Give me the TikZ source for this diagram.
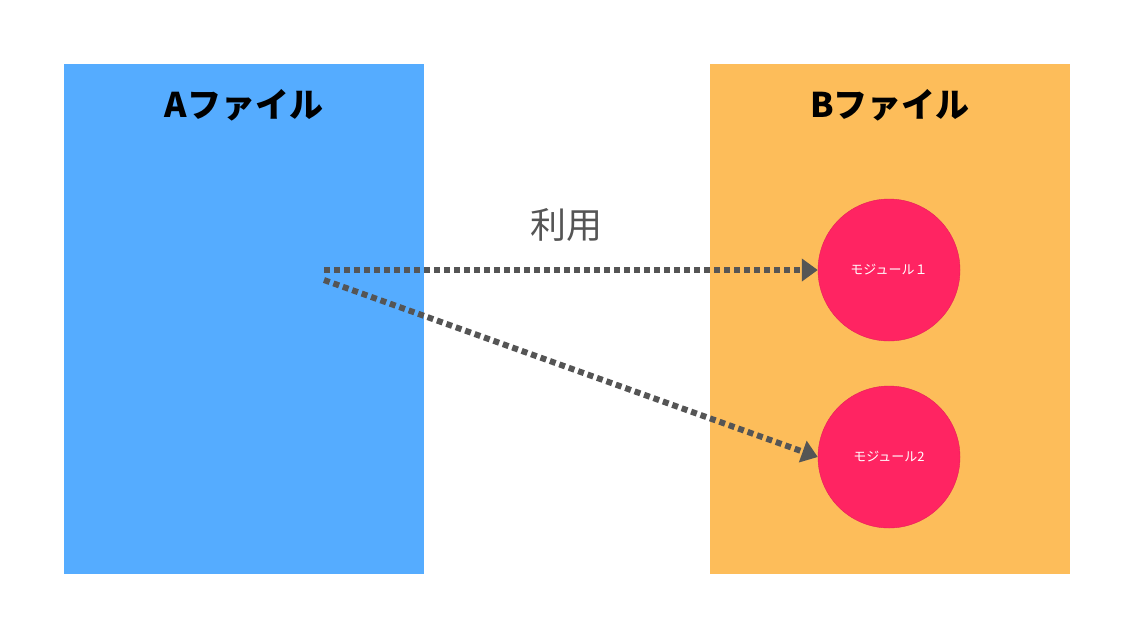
\documentclass[tikz,border=0pt]{standalone}
\usepackage{fontspec}
\setmainfont{Noto Sans CJK JP}
\usetikzlibrary{arrows.meta}
\definecolor{blueF}{HTML}{55ACFF}
\definecolor{orangeF}{HTML}{FDBD5A}
\definecolor{pinkF}{HTML}{FF2462}
\definecolor{grayA}{HTML}{555555}
\tikzset{
 filebox/.style={draw=none,minimum width=360pt,minimum height=510pt,inner sep=0},
 title/.style={font=\fontsize{34pt}{40pt}\selectfont\bfseries,text=black},
 module/.style={circle,fill=pinkF,draw=pinkF!90!black,minimum size=142pt,inner sep=0,text=white,font=\fontsize{13pt}{15pt}\selectfont},
 uses/.style={draw=grayA,line width=6pt,dash pattern=on 6pt off 4pt,-{Triangle[length=16pt,width=22pt,line cap=butt]}}
}
\begin{document}
\begin{tikzpicture}[x=1pt,y=-1pt]
\useasboundingbox (0,0) rectangle (1134,638);
\node[filebox,fill=blueF] (A) at (244,319) {};
\node[filebox,fill=orangeF] (B) at (889.5,319) {};
\node[title] (At) at (244,105) {Aファイル};
\node[title] (Bt) at (890,105) {Bファイル};
\node[module] (m1) at (889,270) {モジュール１};
\node[module] (m2) at (889,457) {モジュール2};
\node[font=\fontsize{36pt}{40pt}\selectfont,text=grayA] (u) at (566,225) {利用};
\coordinate (s1) at (324,270);
\coordinate (s2) at (324,280);
\draw[uses] (s1) -- (m1.west);
\draw[uses] (s2) -- (m2.west);
\end{tikzpicture}
\end{document}
